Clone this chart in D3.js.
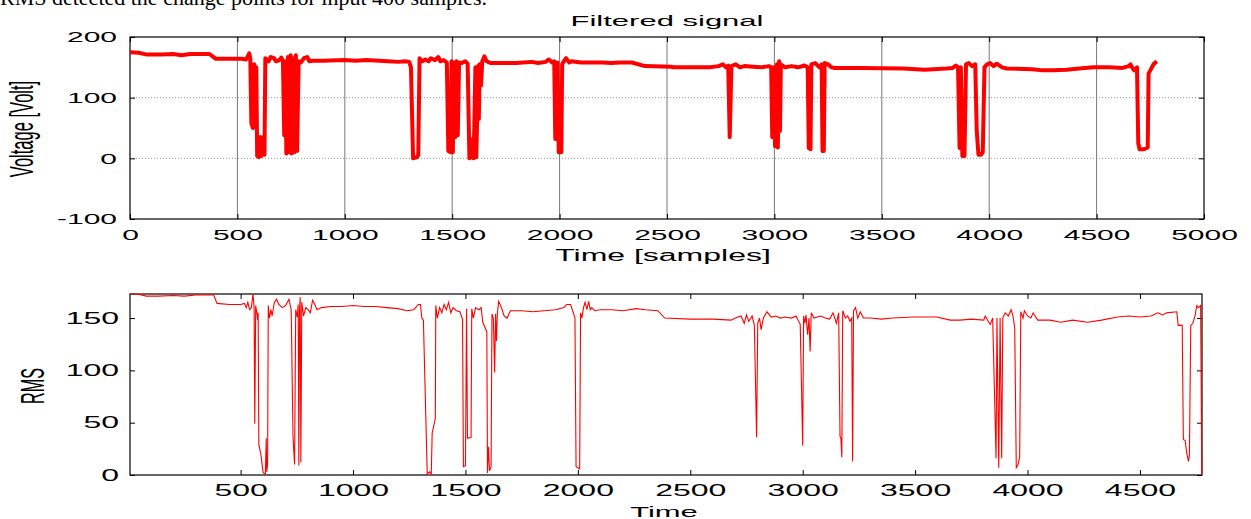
<!DOCTYPE html>
<html>
<head>
<meta charset="utf-8">
<script src="https://cdn.jsdelivr.net/npm/d3@7"></script>
<style>
  body { margin: 0; background: #fff; }
  svg text { font-family: "Liberation Sans", Arial, sans-serif; fill: #000; }
</style>
</head>
<body>
<div id="vis-holder"></div>
<script>
// Data: [sample, value]
const filtered = [
  [0,175],[40,174],[80,171],[150,171],[200,172],[240,170],[280,172],[370,172],[400,164],[520,164],[540,163],
  [548,168],[555,173],[560,165],[565,58],[572,50],[578,155],[582,52],[588,150],[592,4],[600,2],[605,35],[612,4],[620,35],[626,6],[630,165],[645,160],[655,167],[670,165],[680,160],[695,162],[705,166],[712,160],
  [718,38],[722,160],[728,8],[735,167],[740,10],[748,170],[752,8],[760,165],[765,10],[772,170],[778,12],[785,160],[795,158],[810,165],[825,167],[835,160],[850,161],[900,161],[1000,162],[1050,161],[1100,162],[1200,160],[1250,159],[1280,160],[1300,159],[1308,150],
  [1318,0],[1335,2],[1342,5],[1348,165],[1360,160],[1375,163],[1390,160],[1400,165],[1420,162],[1435,167],[1445,160],[1460,162],[1475,158],
  [1482,12],[1492,10],[1497,160],[1503,10],[1508,158],[1514,35],[1520,160],[1526,38],[1532,158],[1545,157],[1560,160],[1572,156],
  [1580,0],[1590,2],[1596,32],[1600,0],[1608,150],[1612,2],[1616,62],[1620,152],[1624,65],[1628,155],[1634,120],[1640,160],[1650,168],[1660,160],[1680,157],[1800,157],[1870,159],[1900,157],[1935,159],[1950,163],[1965,158],[1975,160],
  [1980,32],[1990,158],[1996,10],[2008,10],[2012,155],[2020,160],[2030,165],[2045,158],[2055,160],[2100,158],[2200,158],[2240,157],[2280,158],[2336,158],[2398,152],[2520,151],[2530,150],[2700,150],[2740,152],[2760,155],[2775,150],[2785,153],
  [2792,35],[2800,152],[2820,155],[2840,150],[2860,152],[2900,151],[2940,150],[2975,152],[2985,150],
  [2990,35],[2995,150],[3003,20],[3012,155],[3016,18],[3022,160],[3026,45],[3030,155],[3050,150],[3080,152],[3110,150],[3140,153],[3155,150],
  [3160,17],[3168,15],[3172,155],[3190,157],[3210,150],[3220,155],
  [3224,12],[3230,12],[3234,157],[3250,155],[3265,150],[3280,149],[3400,149],[3600,148],[3700,146],[3800,148],[3830,149],[3845,153],[3855,150],
  [3862,17],[3868,150],[3875,4],[3885,4],[3892,155],[3905,157],[3920,152],[3935,155],
  [3942,45],[3950,6],[3962,6],[3970,10],[3978,150],[3990,155],[4005,157],[4020,152],[4035,156],[4060,150],[4082,148],[4200,147],[4250,145],[4300,145],[4360,146],[4420,148],[4485,150],[4560,150],[4620,149],[4650,152],[4658,155],[4665,150],[4675,145],[4688,150],
  [4694,25],[4700,15],[4720,15],[4738,18],[4742,140],[4750,145],[4765,155],[4780,160]
];

const rms = [
  [8,173],[40,173],[80,171],[132,171],[200,171.5],[250,171],[300,172],[363,172],[380,172],[395,164],[450,163],[500,163],[517,164],[525,160],[532,165],[540,158],[548,160],[555,173],[560,160],
  [563,49],[567,162],[572,155],[576,148],[578,155],[581,29],[590,20],[600,2],[610,1],[614,35],[616,3],[620,10],[623,162],[628,150],[635,158],[640,152],[650,165],[660,168],[670,163],[685,160],[700,162],[715,168],[725,158],
  [733,37],[740,10],[745,158],[752,151],[756,163],[759,9],[762,158],[765,170],[768,12],[772,165],[780,152],[790,160],[800,158],[810,155],[820,167],[830,163],[840,158],[860,160],[900,161],[950,161],[1000,162],[1050,161],[1100,161],[1150,160],[1200,159],[1240,157],[1270,158],[1290,163],[1300,163],
  [1306,150],[1313,148],[1330,1],[1340,3],[1348,1],[1352,40],[1366,54],[1368,162],[1375,150],[1385,160],[1395,155],[1405,163],[1415,158],[1425,165],[1435,155],[1445,160],[1460,157],[1475,156],[1487,149],
  [1491,8],[1500,9],[1505,159],[1509,35],[1525,36],[1528,159],[1535,150],[1545,160],[1560,158],[1570,160],[1577,146],[1595,137],
  [1598,2],[1602,27],[1607,4],[1614,8],[1618,154],[1624,150],[1630,98],[1634,154],[1638,128],[1642,155],[1648,166],[1660,160],[1672,152],[1685,150],[1700,157],[1750,157],[1800,156],[1850,157],[1900,158],[1938,160],[1950,163],[1968,163],[1980,155],[1987,150],
  [1992,8],[2008,6],[2012,155],[2018,150],[2025,160],[2032,165],[2040,158],[2048,166],[2055,158],[2062,160],[2075,157],[2100,158],[2150,158],[2200,157],[2260,159],[2300,158],[2356,157],[2386,150],[2500,149],[2600,149],[2682,148],[2700,150],[2726,152],[2740,145],[2750,153],[2760,147],[2775,152],[2785,143],
  [2795,36],[2800,145],[2808,150],[2815,139],[2825,150],[2841,156],[2860,151],[2880,152],[2900,150],[2920,151],[2950,150],[2970,152],[2989,144],
  [3000,28],[3004,152],[3010,145],[3015,153],[3022,134],[3028,150],[3033,118],[3038,155],[3050,150],[3080,152],[3100,150],[3120,149],[3135,155],[3150,145],[3160,155],
  [3166,37],[3170,35],[3174,17],[3178,157],[3190,150],[3200,152],[3210,147],[3218,150],
  [3222,13],[3226,157],[3235,160],[3245,150],[3256,156],[3270,150],[3300,150],[3350,149],[3400,150],[3493,151],[3597,151],[3656,148],[3700,148],[3750,149],[3805,148],[3812,152],[3825,147],[3834,144],[3845,150],
  [3860,16],[3864,150],[3872,7],[3878,150],[3885,16],[3890,150],[3900,155],[3915,152],[3927,158],[3935,152],[3943,141],
  [3950,7],[3958,10],[3965,17],[3970,156],[3980,150],[3986,157],[4000,152],[4015,150],[4025,155],[4045,148],[4100,148],[4148,146],[4200,148],[4267,146],[4330,148],[4400,151],[4450,152],[4500,151],[4549,152],[4580,155],[4600,153],[4619,155],[4664,156],[4670,143],[4688,143],
  [4693,34],[4701,33],[4708,21],[4716,13],[4720,19],[4726,143],[4735,145],[4745,152],[4753,162],[4760,160],[4770,162],[4775,0]
];

const topXTicks = [0, 500, 1000, 1500, 2000, 2500, 3000, 3500, 4000, 4500, 5000];
const topYTicks = [-100, 0, 100, 200];
const botXTicks = [500, 1000, 1500, 2000, 2500, 3000, 3500, 4000, 4500];
const botYTicks = [0, 50, 100, 150];

const width = 1251;
const height = 519;
const SX = 2; // figure text is stretched horizontally
const plain = (d) => String(d);

const svg = d3.select("#vis-holder")
    .append("svg")
    .attr("width", width)
    .attr("height", height);

svg.append("rect").attr("width", width).attr("height", height).attr("fill", "#fff");

// caption line cut off at the top of the page
svg.append("text")
    .attr("x", 0)
    .attr("y", 5)
    .style("font-family", "'Liberation Serif', 'Times New Roman', serif")
    .style("font-size", "22px")
    .text("RMS detected the change points for input 400  samples.");

// helper for stretched text labels
function label(x, y, txt, size, rotate) {
  return svg.append("text")
      .attr("transform", `translate(${x},${y}) scale(${SX},1)` + (rotate ? " rotate(-90)" : ""))
      .attr("text-anchor", "middle")
      .style("font-size", size + "px")
      .text(txt);
}

// ---------------- Filtered signal ----------------
{
  const p = { left: 130, right: 1204, top: 37, bottom: 219 };

  const x = d3.scaleLinear().domain([0, 5000]).range([p.left, p.right]);
  const y = d3.scaleLinear().domain([-100, 200]).range([p.bottom, p.top]);

  // grid
  svg.append("g")
      .selectAll("line")
      .data(topXTicks.slice(1, -1))
      .enter()
      .append("line")
      .attr("x1", (d) => x(d)).attr("x2", (d) => x(d))
      .attr("y1", p.top).attr("y2", p.bottom)
      .attr("stroke", "#555")
      .attr("stroke-width", 0.8);

  svg.append("g")
      .selectAll("line")
      .data(topYTicks.slice(1, -1))
      .enter()
      .append("line")
      .attr("x1", p.left).attr("x2", p.right)
      .attr("y1", (d) => y(d)).attr("y2", (d) => y(d))
      .attr("stroke", "#777")
      .attr("stroke-width", 0.8)
      .attr("stroke-dasharray", "1,2");

  // axes
  const xAxis = svg.append("g")
      .attr("transform", `translate(0,${p.bottom})`)
      .call(d3.axisBottom(x).tickValues(topXTicks).tickFormat(plain).tickSizeInner(-5).tickSizeOuter(0).tickPadding(10));
  const yAxis = svg.append("g")
      .attr("transform", `translate(${p.left},0)`)
      .call(d3.axisLeft(y).tickValues(topYTicks).tickFormat(plain).tickSizeInner(-5).tickSizeOuter(0).tickPadding(6.5));
  svg.append("g")
      .attr("transform", `translate(${p.right},0)`)
      .call(d3.axisRight(y).tickValues(topYTicks).tickSizeInner(-5).tickSizeOuter(0).tickFormat(""));
  svg.append("g")
      .attr("transform", `translate(0,${p.top})`)
      .call(d3.axisTop(x).tickValues(topXTicks).tickSizeInner(-5).tickSizeOuter(0).tickFormat(""));

  [xAxis, yAxis].forEach((g) => {
    g.selectAll("text").attr("transform", `scale(${SX},1)`).style("font-size", "15px");
  });
  svg.selectAll(".domain").remove();

  svg.append("rect")
      .attr("x", p.left).attr("y", p.top)
      .attr("width", p.right - p.left).attr("height", p.bottom - p.top)
      .attr("fill", "none").attr("stroke", "#000").attr("stroke-width", 1.2);

  svg.append("path")
      .datum(filtered)
      .attr("fill", "none")
      .attr("stroke", "#ff0000")
      .attr("stroke-width", 4)
      .attr("stroke-linejoin", "round")
      .attr("d", d3.line().x((d) => x(d[0])).y((d) => y(d[1])));

  label(667, 26, "Filtered signal", 15.5);
  label(663, 261, "Time [samples]", 16);
  label(33, 129, "Voltage [Volt]", 16.5, true);
}

// ---------------- RMS ----------------
{
  const p = { left: 130, right: 1202, top: 294, bottom: 475 };

  const x = d3.scaleLinear().domain([8, 4776]).range([p.left, p.right]);
  const y = d3.scaleLinear().domain([0, 173]).range([p.bottom, p.top]);

  const xAxis = svg.append("g")
      .attr("transform", `translate(0,${p.bottom})`)
      .call(d3.axisBottom(x).tickValues(botXTicks).tickFormat(plain).tickSizeInner(-5).tickSizeOuter(0).tickPadding(10));
  const yAxis = svg.append("g")
      .attr("transform", `translate(${p.left},0)`)
      .call(d3.axisLeft(y).tickValues(botYTicks).tickFormat(plain).tickSizeInner(-5).tickSizeOuter(0).tickPadding(5.5));
  svg.append("g")
      .attr("transform", `translate(${p.right},0)`)
      .call(d3.axisRight(y).tickValues(botYTicks).tickSizeInner(-5).tickSizeOuter(0).tickFormat(""));
  svg.append("g")
      .attr("transform", `translate(0,${p.top})`)
      .call(d3.axisTop(x).tickValues(botXTicks).tickSizeInner(-5).tickSizeOuter(0).tickFormat(""));

  [xAxis, yAxis].forEach((g) => {
    g.selectAll("text").attr("transform", `scale(${SX},1)`).style("font-size", "16px");
  });
  svg.selectAll(".domain").remove();

  svg.append("rect")
      .attr("x", p.left).attr("y", p.top)
      .attr("width", p.right - p.left).attr("height", p.bottom - p.top)
      .attr("fill", "none").attr("stroke", "#000").attr("stroke-width", 1.2);

  svg.append("path")
      .datum(rms)
      .attr("fill", "none")
      .attr("stroke", "#ff0000")
      .attr("stroke-width", 1.1)
      .attr("d", d3.line().x((d) => x(d[0])).y((d) => y(d[1])));

  label(664, 517, "Time", 15.5);
  label(44, 386, "RMS", 16.2, true);
}
</script>
</body>
</html>
